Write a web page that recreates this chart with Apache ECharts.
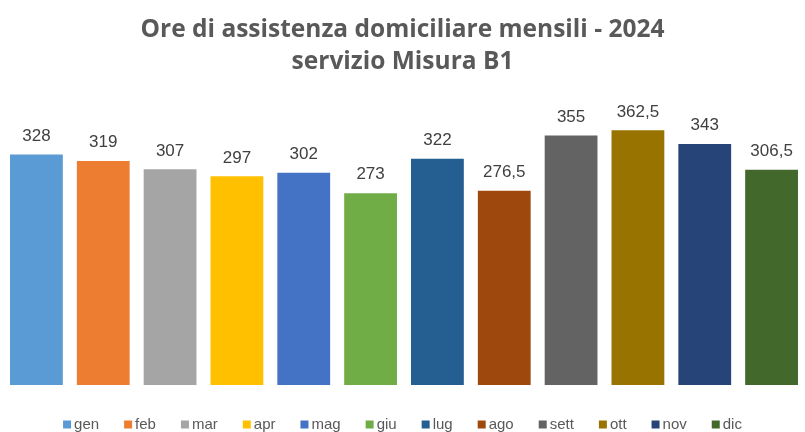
<!DOCTYPE html>
<html>
<head>
<meta charset="utf-8">
<script src="https://cdn.jsdelivr.net/npm/echarts@6/dist/echarts.min.js"></script>
<style>
  html, body { margin: 0; padding: 0; background: #fff; }
  #chart { width: 805px; height: 432px; }
</style>
</head>
<body>
<div id="chart"></div>
<script>
var months = ['gen', 'feb', 'mar', 'apr', 'mag', 'giu', 'lug', 'ago', 'sett', 'ott', 'nov', 'dic'];
var hours = [328, 319, 307, 297, 302, 273, 322, 276.5, 355, 362.5, 343, 306.5];
var colors = ['#5B9BD5', '#ED7D31', '#A5A5A5', '#FFC000', '#4472C4', '#70AD47',
              '#255E91', '#9E480E', '#636363', '#997300', '#264478', '#43682B'];

// one series per month so each gets its own legend entry
var series = months.map(function (m, i) {
    var data = months.map(function (x, j) { return j === i ? hours[i] : null; });
    return {
        name: m,
        type: 'bar',
        stack: 'ore',
        barWidth: '79%',
        data: data,
        itemStyle: {color: colors[i]},
        label: {
            show: true, position: 'top', distance: 10,
            color: '#404040', fontSize: 17, fontFamily: 'Liberation Sans',
            formatter: function (p) { return String(p.value).replace('.', ','); }
        }
    };
});

var chart = echarts.init(document.getElementById('chart'));
chart.setOption({
    animation: false,
    title: {
        text: 'Ore di assistenza domiciliare mensili - 2024\nservizio Misura B1',
        left: 'center', top: 9,
        padding: [5, 0, 5, 10],
        textStyle: {fontSize: 24.5, fontWeight: 'bold', color: '#595959', fontFamily: 'Open Sans', lineHeight: 32}
    },
    legend: {
        bottom: -5, left: 'center',
        itemWidth: 8, itemHeight: 8, itemGap: 25,
        icon: 'rect',
        textStyle: {fontSize: 15, color: '#595959', fontFamily: 'Liberation Sans', padding: [0, 0, 0, -2]}
    },
    grid: {left: 3, right: -9, top: 104, bottom: 47},
    xAxis: {
        type: 'category', data: months,
        axisLine: {show: false}, axisTick: {show: false}, axisLabel: {show: false}
    },
    yAxis: {type: 'value', min: 0, max: 400, show: false, splitLine: {show: false}},
    series: series
});
</script>
</body>
</html>
